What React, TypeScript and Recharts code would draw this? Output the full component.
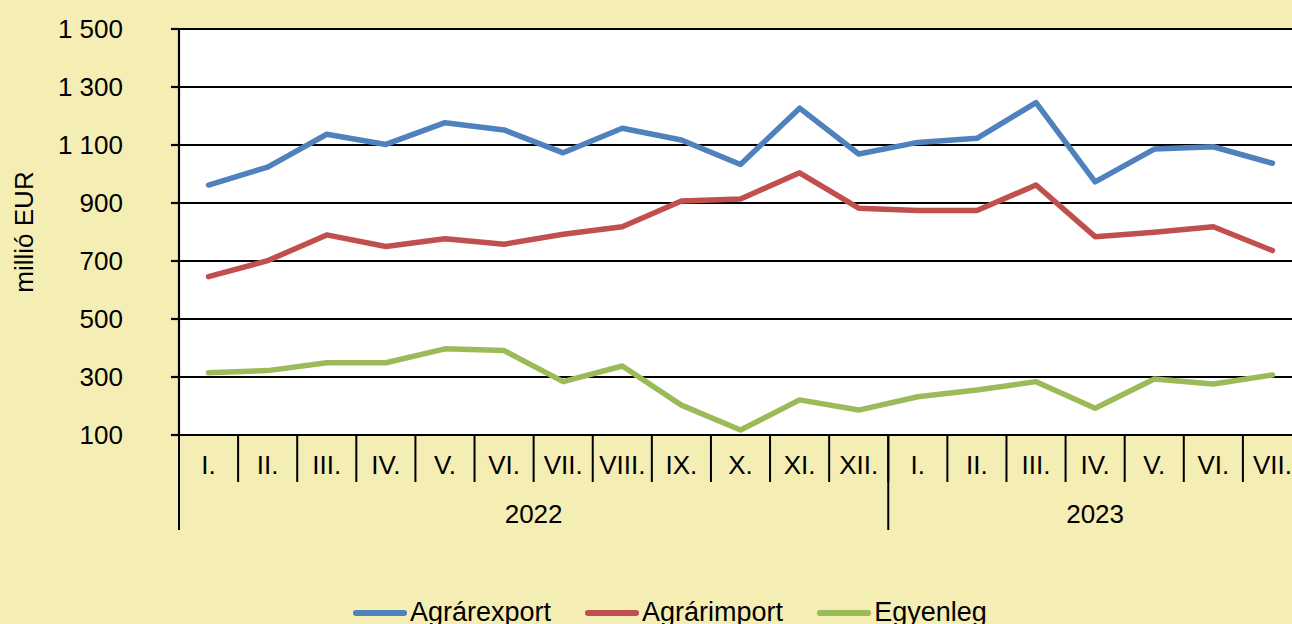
import { LineChart, Line, XAxis, YAxis, CartesianGrid, Legend } from 'recharts';

const MONTHS = ['I.', 'II.', 'III.', 'IV.', 'V.', 'VI.', 'VII.', 'VIII.', 'IX.', 'X.', 'XI.', 'XII.', 'I.', 'II.', 'III.', 'IV.', 'V.', 'VI.', 'VII.'];
const YEARS = [
  { label: '2022', count: 12 },
  { label: '2023', count: 7 },
];
const EXPORT = [962, 1024, 1137, 1102, 1177, 1152, 1073, 1158, 1117, 1033, 1227, 1069, 1109, 1123, 1246, 973, 1086, 1094, 1037];
const IMPORT = [646, 701, 790, 750, 777, 758, 792, 818, 907, 914, 1004, 882, 874, 874, 962, 784, 799, 818, 736];
const BALANCE = [315, 322, 349, 349, 397, 391, 284, 338, 203, 117, 221, 186, 232, 255, 284, 192, 293, 276, 307];
const Y_TICKS = [100, 300, 500, 700, 900, 1100, 1300, 1500];

const SERIES = [
  { key: 'export', name: 'Agrárexport', color: '#4F81BD' },
  { key: 'import', name: 'Agrárimport', color: '#C0504D' },
  { key: 'balance', name: 'Egyenleg', color: '#9BBB59' },
];

const data = MONTHS.map((month, i) => ({
  month,
  export: EXPORT[i],
  import: IMPORT[i],
  balance: BALANCE[i],
}));

const FONT = '"Liberation Sans", Arial, sans-serif';
const BG = '#F4EEB4';

// chart is wider than the page, the right end of the plot gets clipped like in the original
const CHART_W = 1310;
const Y_AXIS_W = 179;
const MARGIN_RIGHT = 8;
const PLOT_W = CHART_W - Y_AXIS_W - MARGIN_RIGHT;
const HALF = PLOT_W / MONTHS.length / 2;

const fmt = (v: number) => (v >= 1000 ? `${Math.floor(v / 1000)} ${String(v % 1000).padStart(3, '0')}` : String(v));

const MonthTick = (props: any) => {
  const { x, y, index, payload } = props;
  const left = x - HALF;
  let start = 0;
  let yearEl = null;
  for (const yr of YEARS) {
    if (index === start) {
      const cx = left + yr.count * HALF;
      yearEl = (
        <g>
          <line x1={left} x2={left} y1={y} y2={y + 95} stroke="#000" strokeWidth={2} />
          <text x={cx} y={y + 88} textAnchor="middle" fontSize={26} fontFamily={FONT} fill="#000">
            {yr.label}
          </text>
        </g>
      );
    }
    start += yr.count;
  }
  return (
    <g>
      {index > 0 && <line x1={left} x2={left} y1={y} y2={y + 47} stroke="#000" strokeWidth={2} />}
      {yearEl}
      <text x={x} y={y + 39} textAnchor="middle" fontSize={26} fontFamily={FONT} fill="#000">
        {payload.value}
      </text>
    </g>
  );
};

const LegendContent = ({ payload }: any) => (
  <div style={{ display: 'flex', justifyContent: 'flex-start', paddingLeft: 353, fontFamily: FONT, fontSize: 27, color: '#000' }}>
    {payload.map((p: any, i: number) => (
      <div key={i} style={{ display: 'flex', alignItems: 'center', marginRight: 34 }}>
        <span style={{ display: 'inline-block', width: 54, height: 6, borderRadius: 3, background: p.color, marginRight: 3 }} />
        <span>{p.value}</span>
      </div>
    ))}
  </div>
);

export default function App() {
  return (
    <div style={{ position: 'absolute', left: 0, top: 0, width: 1292, height: 624, overflow: 'hidden', background: BG }}>
      <LineChart width={CHART_W} height={624} data={data} margin={{ top: 29, right: MARGIN_RIGHT, bottom: 0, left: 0 }}>
        <CartesianGrid horizontal vertical={false} stroke="#000" strokeWidth={2.2} fill="#fff" fillOpacity={1} />
        <XAxis
          dataKey="month"
          interval={0}
          height={189}
          padding={{ left: HALF, right: HALF }}
          axisLine={false}
          tickLine={false}
          tickSize={0}
          tickMargin={0}
          tick={<MonthTick />}
        />
        <YAxis
          width={Y_AXIS_W}
          domain={[100, 1500]}
          ticks={Y_TICKS}
          interval={0}
          tickFormatter={fmt}
          tickSize={8}
          tickMargin={48}
          axisLine={{ stroke: '#000', strokeWidth: 2.2 }}
          tickLine={{ stroke: '#000', strokeWidth: 2.2 }}
          tick={{ fill: '#000', fontSize: 26, fontFamily: FONT }}
          label={{
            content: () => (
              <text x={33} y={232} transform="rotate(-90 33 232)" textAnchor="middle" fontSize={26} fontFamily={FONT} fill="#000">
                millió EUR
              </text>
            ),
          }}
        />
        <Legend
          layout="horizontal"
          verticalAlign="middle"
          align="center"
          content={<LegendContent />}
          wrapperStyle={{ position: 'absolute', top: 597, left: 0, width: 1292, height: 30 }}
        />
        {SERIES.map((s) => (
          <Line
            key={s.key}
            type="linear"
            dataKey={s.key}
            name={s.name}
            stroke={s.color}
            strokeWidth={5.5}
            strokeLinejoin="round"
            strokeLinecap="round"
            dot={false}
            activeDot={false}
            isAnimationActive={false}
          />
        ))}
      </LineChart>
    </div>
  );
}
